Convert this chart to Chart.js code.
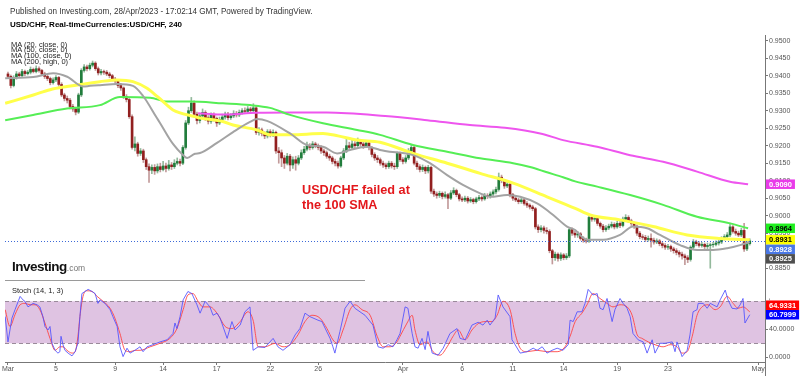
<!DOCTYPE html>
<html><head><meta charset="utf-8">
<script src="https://cdn.jsdelivr.net/npm/chart.js@4.4.0/dist/chart.umd.min.js"></script>
<style>
html,body{margin:0;padding:0;background:#fff;width:800px;height:376px;overflow:hidden;font-family:"Liberation Sans",Arial,sans-serif}
#wrap{position:relative;width:800px;height:376px}
canvas{position:absolute;left:0}
#cB{top:276px}
#cA{top:0}
.t{position:absolute;white-space:nowrap;line-height:10px;color:#222}
</style></head><body>
<div id="wrap">
<canvas id="cB" width="800" height="100"></canvas>
<canvas id="cA" width="800" height="290"></canvas>
<div class="t" style="left:10px;top:6.5px;font-size:8.15px;color:#333">Published on Investing.com, 28/Apr/2023 - 17:02:14 GMT, Powered by TradingView.</div>
<div class="t" style="left:10px;top:20px;font-size:8px;font-weight:bold;color:#000">USD/CHF, Real-timeCurrencies:USD/CHF, 240</div>
<div class="t" style="left:11px;top:39.5px;font-size:7.5px">MA (20, close, 0)</div>
<div class="t" style="left:11px;top:45.2px;font-size:7.5px">MA (50, close, 0)</div>
<div class="t" style="left:11px;top:50.9px;font-size:7.5px">MA (100, close, 0)</div>
<div class="t" style="left:11px;top:56.6px;font-size:7.5px">MA (200, high, 0)</div>
<div class="t" style="left:302px;top:182.5px;font-size:12.7px;line-height:15px;font-weight:bold;color:#e3171b">USD/CHF failed at</div>
<div class="t" style="left:302px;top:198px;font-size:12.7px;line-height:15px;font-weight:bold;color:#e3171b">the 100 SMA</div>
<div class="t" style="left:12px;top:259px;line-height:14px;color:#111"><span style="font-size:13.5px;font-weight:bold;letter-spacing:-0.5px">Investing</span><span style="font-size:8.5px;color:#777">.com</span></div>
<div class="t" style="left:12px;top:286px;font-size:7.5px">Stoch (14, 1, 3)</div>
</div>
<script>
// ---- price data (pips: 9400 = 0.9400), 4H candles, open = previous close ----
const firstOpen = 9405;
const closes = [9398,9372,9395,9405,9400,9412,9406,9410,9418,9412,9420,9415,9405,9398,9392,9380,9388,9395,9375,9345,
9335,9330,9312,9305,9296,9345,9415,9425,9420,9430,9436,9420,9408,9412,9410,9405,9400,9390,9385,9372,
9365,9340,9332,9283,9195,9205,9178,9185,9160,9140,9130,9138,9128,9140,9132,9142,9135,9145,9140,9150,
9155,9150,9195,9265,9300,9322,9290,9272,9285,9295,9280,9270,9288,9278,9265,9275,9282,9290,9280,9285,
9292,9288,9295,9300,9298,9305,9300,9308,9238,9245,9235,9228,9240,9232,9238,9185,9180,9165,9150,9170,
9145,9160,9150,9165,9180,9190,9200,9195,9205,9200,9195,9185,9180,9170,9165,9155,9150,9142,9165,9185,
9200,9195,9205,9200,9210,9205,9200,9208,9195,9175,9165,9160,9150,9145,9140,9150,9142,9140,9178,9160,
9155,9165,9185,9195,9150,9140,9132,9138,9128,9138,9070,9062,9058,9064,9055,9060,9050,9065,9072,9060,
9048,9045,9050,9042,9046,9040,9048,9052,9048,9058,9055,9062,9068,9075,9110,9100,9085,9090,9060,9050,
9045,9040,9045,9035,9030,9025,9020,8968,8960,8965,8958,8955,8900,8880,8890,8878,8888,8880,8885,8960,
8950,8945,8948,8935,8930,8928,8995,8990,8992,8978,8970,8960,8965,8970,8975,8968,8978,8972,8990,8995,
8985,8978,8970,8950,8940,8938,8932,8935,8930,8925,8928,8920,8915,8910,8912,8905,8900,8895,8890,8885,
8880,8875,8910,8925,8920,8915,8918,8912,8915,8917,8918,8922,8925,8935,8940,8945,8968,8955,8950,8945,
8958,8905,8920,8928];
const highs = [9410,9402,9400,9412,9410,9418,9416,9415,9425,9422,9428,9425,9418,9410,9403,9396,9394,9400,9398,9380,
9350,9342,9335,9318,9310,9350,9420,9432,9430,9436,9442,9440,9425,9418,9416,9415,9410,9404,9395,9388,
9378,9368,9346,9335,9288,9225,9210,9192,9190,9165,9148,9145,9146,9148,9150,9155,9150,9158,9152,9160,
9165,9162,9200,9272,9310,9338,9328,9296,9292,9305,9300,9286,9294,9294,9282,9282,9290,9296,9295,9292,
9300,9298,9302,9306,9308,9312,9310,9320,9312,9252,9250,9240,9246,9246,9245,9242,9195,9188,9172,9178,
9175,9168,9170,9172,9188,9198,9210,9206,9212,9210,9205,9200,9190,9185,9176,9170,9162,9156,9170,9192,
9218,9210,9215,9212,9222,9216,9212,9215,9212,9198,9180,9172,9165,9156,9150,9156,9155,9150,9182,9182,
9166,9172,9192,9204,9200,9156,9146,9145,9142,9144,9142,9076,9068,9070,9068,9068,9064,9072,9080,9076,
9064,9054,9056,9055,9052,9050,9053,9058,9057,9064,9063,9068,9074,9082,9122,9116,9104,9097,9094,9064,
9056,9050,9050,9049,9040,9034,9030,9024,8974,8972,8970,8966,8960,8904,8896,8894,8894,8892,8892,8966,
8965,8956,8955,8952,8940,8936,8998,9002,8998,8996,8982,8975,8972,8976,8982,8980,8984,8983,8996,9003,
9000,8990,8982,8974,8955,8946,8944,8942,8948,8936,8934,8932,8925,8920,8918,8916,8910,8906,8900,8896,
8890,8886,8914,8932,8930,8926,8924,8922,8922,8922,8924,8928,8930,8940,8946,8952,8979,8972,8962,8956,
8964,8978,8926,8934];
const lows = [9392,9365,9368,9390,9395,9396,9400,9402,9405,9408,9408,9410,9400,9392,9386,9374,9376,9383,9370,9340,
9328,9322,9305,9298,9288,9292,9340,9410,9414,9416,9425,9415,9402,9402,9404,9400,9394,9385,9378,9366,
9358,9335,9325,9278,9190,9185,9170,9172,9152,9132,9095,9120,9118,9122,9125,9128,9125,9130,9132,9135,
9145,9142,9146,9190,9260,9295,9282,9262,9265,9278,9272,9262,9264,9270,9255,9260,9270,9276,9274,9275,
9280,9282,9283,9290,9292,9292,9294,9296,9232,9230,9228,9220,9222,9225,9226,9178,9150,9140,9135,9145,
9128,9135,9130,9145,9160,9175,9185,9188,9190,9194,9188,9178,9172,9164,9158,9148,9142,9136,9138,9160,
9180,9188,9190,9192,9195,9198,9192,9195,9188,9168,9158,9152,9144,9138,9134,9135,9136,9132,9135,9155,
9148,9150,9160,9180,9145,9132,9125,9126,9120,9122,9064,9055,9050,9052,9048,9050,9020,9046,9060,9054,
9042,9040,9040,9036,9038,9034,9036,9043,9042,9044,9049,9050,9057,9062,9070,9094,9078,9080,9054,9044,
9040,9034,9035,9030,9024,9019,9014,8962,8952,8954,8950,8948,8894,8862,8872,8870,8872,8874,8875,8880,
8944,8938,8938,8930,8924,8922,8924,8984,8984,8972,8964,8954,8955,8960,8965,8962,8964,8966,8968,8985,
8980,8972,8964,8944,8934,8932,8926,8927,8910,8919,8920,8914,8908,8904,8904,8898,8893,8888,8882,8876,
8860,8866,8870,8905,8914,8910,8910,8906,8906,8850,8910,8914,8916,8920,8930,8935,8940,8950,8944,8940,
8940,8898,8900,8916];

// ---- moving averages: [candle index, value in pips] ----
const ma20 = [[-1,9393],[9,9396],[16,9407],[21,9397],[26.6,9369],[29.1,9371],[32.6,9373],[38.7,9376],[44.3,9371],[47.9,9342],
[52.8,9279],[53.9,9265],[58.5,9205],[62.1,9173],[63.5,9165],[66.3,9177],[68.1,9179],[74.1,9208],[79.8,9239],[85.8,9268],
[88.3,9276],[91.8,9271],[100,9235],[106,9202],[111.7,9197],[116.7,9178],[121.3,9188],[127.3,9197],[131.9,9188],[133.7,9185],
[143.6,9173],[149.6,9150],[155.7,9116],[161.3,9088],[167.4,9064],[170.9,9054],[177,9059],[181.6,9054],[187.6,9035],[193.3,9002],
[198.2,8969],[201.1,8959],[202.8,8945],[205.3,8931],[211,8931],[217,8945],[221.6,8969],[226.6,8964],[231.2,8945],[238.3,8916],
[244.3,8902],[250,8902],[255,8907],[259.6,8916],[263,8925]];
const ma50 = [[-1,9321],[9,9345],[14.9,9360],[20.9,9369],[32.6,9383],[38.7,9388],[44.3,9383],[49.3,9364],[53,9340],[56.4,9316],
[58.5,9302],[66.3,9283],[68.1,9279],[76.2,9269],[79.8,9259],[88.3,9245],[92.9,9231],[100,9231],[106,9233],[111.7,9235],
[117,9228],[123.8,9216],[131.9,9210],[143.6,9178],[155.7,9150],[167.4,9121],[179.1,9093],[191.1,9054],[201.1,9021],[206.4,9002],
[217,8988],[228.7,8969],[240.8,8945],[252.5,8935],[263,8931]];
const ma100 = [[-1,9273],[8.9,9288],[20.9,9306],[32.6,9316],[39.7,9339],[50.4,9337],[56.4,9326],[64.5,9326],[76.2,9321],[85.8,9316],
[92.9,9308],[100,9288],[111.7,9264],[123.8,9245],[131.9,9231],[143.6,9202],[155.7,9183],[167.4,9164],[179.1,9150],[185.1,9139],
[191.1,9124],[196.8,9110],[201.1,9098],[208.9,9083],[220.6,9059],[232.3,9031],[244.3,8997],[256,8978],[262.4,8964]];
const ma200 = [[67.4,9293],[75.2,9289],[88.3,9294],[100,9295],[113,9295],[133.7,9285],[148.6,9273],[163.8,9259],[176.2,9251],[188.7,9235],
[196.8,9216],[208.9,9197],[220.6,9173],[232.3,9154],[244.3,9126],[256,9097],[262.4,9090]];

// ---- stochastic (14,1,3): [candle index, value] ----
const stochK = [[-1,58],[0,22],[1.4,56],[2.5,68],[4.3,87],[5.3,82],[6,80],[7.1,72],[8.9,77],[10.3,75],[11.3,72],[12.4,58],[13.1,44],[14.2,39],[14.9,44],[15.6,20],[16.7,10],[17.7,6],[18.4,8],[18.8,30],[19.5,18],[20.2,10],[21.3,6],[22.7,2],[23.8,8],[24.8,20],[25.5,58],[26.2,91],[27.3,94],[28.4,97],[29.8,94],[30.9,91],[31.9,77],[32.6,82],[34.4,77],[36.2,68],[37.2,58],[38.7,44],[39.7,15],[40.8,1],[42.2,13],[43.3,6],[45,10],[46.8,15],[47.9,8],[49.3,15],[51.4,18],[53.9,22],[56.4,25],[58.5,34],[59.2,49],[59.9,41],[61,58],[62.1,82],[63.8,94],[65.2,91],[67,75],[68.1,63],[69.9,80],[71.6,72],[72.7,60],[74.1,63],[75.2,56],[77.7,27],[79.4,51],[80.5,39],[82.3,46],[84,65],[85.8,72],[86.9,10],[88.7,15],[91.1,14],[94,27],[95.7,15],[97.5,10],[100,18],[101.8,32],[103.5,41],[105.3,63],[107.1,58],[109.9,53],[111.3,51],[114.2,27],[115.2,15],[115.9,6],[117.7,37],[119.5,70],[121.3,80],[123,70],[125.5,63],[126.6,60],[129.4,46],[131.2,15],[133,13],[134.8,18],[136.5,15],[137.9,25],[139,34],[140.8,72],[141.8,70],[143.3,34],[144.3,15],[145.4,13],[146.8,27],[147.9,11],[148.9,37],[150.4,6],[152.5,3],[154.3,13],[156.7,34],[159.2,41],[160.3,27],[162.1,25],[164.5,46],[166.7,50],[168.4,46],[169.9,53],[170.9,46],[172.7,56],[173.8,89],[175.5,72],[178,58],[178.7,25],[179.8,18],[181.6,6],[184,8],[186.2,13],[187.6,10],[189.4,15],[191.1,6],[192.9,10],[194.7,13],[196.8,10],[198.6,18],[199.3,53],[200.4,51],[201.8,65],[203.5,65],[204.6,77],[205.7,97],[207.4,89],[208.9,91],[209.9,70],[211,68],[212.4,84],[214.2,51],[215.2,68],[217,84],[218.1,77],[219.5,70],[220.6,58],[221.6,34],[223.4,25],[225.2,22],[226.6,6],[228.4,25],[229.4,6],[231.2,20],[233,20],[235.5,22],[236.5,8],[237.2,22],[239,1],[240.8,10],[241.8,32],[242.9,65],[244.3,68],[244.7,77],[246.5,77],[247.9,70],[249,77],[251.4,72],[252.5,82],[254.3,96],[255.3,82],[256.7,70],[258.5,69],[259.6,75],[260.6,84],[261.3,49],[263,60.7999]];
const stochD = [[-1,68],[0.7,44],[2.5,61],[4.3,75],[6,77],[7.8,75],[9.6,75],[11.3,68],[13.1,49],[14.9,27],[16.7,10],[18.4,15],[19.5,15],[20.9,10],[22.7,6],[23.8,8],[24.8,30],[25.5,58],[26.6,87],[28,95],[29.8,94],[31.6,87],[33.7,80],[36.2,70],[37.9,56],[39.7,34],[41.5,10],[43.3,8],[45,10],[46.8,10],[50.4,15],[53.9,20],[57.4,27],[59.9,41],[62.1,68],[63.8,89],[65.6,91],[67.4,80],[69.1,72],[71.6,72],[74.1,63],[77,44],[79.4,41],[82.3,51],[85.1,65],[86.9,53],[88.7,15],[91.1,15],[94.7,20],[97.5,15],[100,18],[102.8,32],[105.3,51],[107.8,60],[110.6,56],[113.1,41],[115.2,25],[116.7,20],[118.8,39],[121.3,68],[123,75],[125.5,68],[128.4,60],[130.9,30],[133,15],[135.5,15],[137.9,22],[139,30],[141.5,49],[143.3,60],[144.3,39],[146.1,18],[148.6,22],[150.7,8],[153.2,3],[155.7,15],[157.8,30],[159.6,39],[162.1,25],[164.5,39],[166.7,48],[169.1,51],[171.6,51],[173.4,60],[175.5,80],[178,68],[179.8,34],[181.6,13],[184,8],[187.6,10],[191.1,8],[194.7,8],[197.5,15],[199.3,30],[201.1,51],[203.5,63],[205.3,75],[207.4,91],[209.9,84],[212.4,77],[214.5,72],[217,75],[219.5,72],[221.3,60],[223.1,32],[224.8,27],[227,22],[229.4,18],[232.3,15],[234.8,18],[237.2,15],[239,6],[240.8,8],[242.6,30],[244.3,60],[246.1,72],[248.2,75],[250.7,68],[252.5,72],[255,87],[257.1,77],[258.9,70],[260.6,72],[263,64.9331]];

// ---- axis ticks ----
const priceTicks = [8850,8900,8950,9000,9050,9100,9150,9200,9250,9300,9350,9400,9450,9500];
const stochTicks = [0,40,80];
const xTickIdx = [0,17,38,55,74,93,110,140,161,179,197,216,234,266];
const xTickLabels = ['Mar','5','9','14','17','22','26','Apr','6','11','14','19','23','May'];

Chart.defaults.font.family = '"Liberation Sans", Arial, sans-serif';
const X_MIN = -1.06, X_MAX = 268.4;
const last = a => a[a.length-1][1];

const opens = closes.map((c,i)=> i===0 ? firstOpen : closes[i-1]);
const up = i => closes[i] >= opens[i];
const wickData = closes.map((c,i)=>({x:i, y:[lows[i], highs[i]]}));
const bodyData = closes.map((c,i)=>({x:i, y:[opens[i], c]}));
const pts = a => a.map(([x,y])=>({x,y}));

function alignPx(p){ return Math.round(p - 0.5) + 0.5; }

const boxPlugin = {
  id:'boxes',
  afterDatasetsDraw(chart, args, o){
    if (o.priceLine == null) return;
    const {ctx, chartArea:a} = chart; const y = chart.scales.y;
    const py = Math.round(y.getPixelForValue(o.priceLine)) + 0.5;
    ctx.save(); ctx.strokeStyle = o.priceLineColor; ctx.lineWidth = 1; ctx.setLineDash([1,2]);
    ctx.beginPath(); ctx.moveTo(a.left, py); ctx.lineTo(a.right, py); ctx.stroke(); ctx.restore();
  },
  afterDraw(chart, args, o){
    const {ctx, chartArea:a} = chart; const y = chart.scales.y; const h = 9.5;
    const items = o.items.map(it=>Object.assign({}, it, {py: y.getPixelForValue(it.v)}));
    if (o.dir === 'down') {
      items.sort((p,q)=>p.py-q.py);
      for (let k=1;k<items.length;k++) if (items[k].py < items[k-1].py + h) items[k].py = items[k-1].py + h;
    } else {
      items.sort((p,q)=>q.py-p.py);
      for (let k=1;k<items.length;k++) if (items[k].py > items[k-1].py - h) items[k].py = items[k-1].py - h;
    }
    ctx.save();
    ctx.font = 'bold 7.5px "Liberation Sans", Arial, sans-serif';
    ctx.textBaseline = 'middle';
    if (o.mask) {
      const top = Math.min(...items.map(it=>it.py)) - h/2 - o.mask;
      const bot = Math.max(...items.map(it=>it.py)) + h/2 + o.mask;
      ctx.fillStyle = '#fff'; ctx.fillRect(a.right + 5, top, chart.width - a.right - 5, bot - top);
    }
    items.forEach(it=>{
      const txt = it.text;
      const w = ctx.measureText(txt).width + 6;
      ctx.fillStyle = it.bg; ctx.fillRect(a.right + 1, it.py - h/2, w, h);
      ctx.fillStyle = it.fg; ctx.fillText(txt, a.right + 4, it.py + 0.5);
    });
    if (o.extendAxis) {
      const x = alignPx(a.right);
      ctx.strokeStyle = '#777'; ctx.lineWidth = 1;
      ctx.beginPath(); ctx.moveTo(x, a.bottom); ctx.lineTo(x, chart.height); ctx.stroke();
    }
    if (o.separator) {
      ctx.strokeStyle = '#9a9a9a'; ctx.lineWidth = 1;
      ctx.beginPath(); ctx.moveTo(a.left, 280.5); ctx.lineTo(365, 280.5); ctx.stroke();
    }
    ctx.restore();
  }
};

const bandPlugin = {
  id:'band',
  beforeDatasetsDraw(chart, args, o){
    const {ctx, chartArea:a} = chart; const y = chart.scales.y;
    const y1 = y.getPixelForValue(o.hi), y2 = y.getPixelForValue(o.lo);
    ctx.save();
    ctx.fillStyle = o.fill; ctx.fillRect(a.left, y1, a.right - a.left, y2 - y1);
    ctx.strokeStyle = o.line; ctx.lineWidth = 1; ctx.setLineDash([4,3]);
    [y1,y2].forEach(v=>{ const yy = Math.round(v)+0.5; ctx.beginPath(); ctx.moveTo(a.left, yy); ctx.lineTo(a.right, yy); ctx.stroke(); });
    ctx.restore();
  }
};

const yAxisCommon = {
  position:'right',
  afterFit(s){ s.width = 35; },
  ticks:{ font:{size:7}, color:'#555', padding:1 },
  grid:{ drawOnChartArea:false, tickLength:3, color:'#777' },
  border:{ color:'#777' }
};

const lineDs = (label, data, color, width) => ({
  type:'line', label, data: pts(data), borderColor: color, borderWidth: width,
  pointRadius:0, fill:false, cubicInterpolationMode:'monotone', order:0
});

new Chart(document.getElementById('cA'), {
  type:'bar',
  data:{ datasets:[
    lineDs('MA (20, close, 0)', ma20, '#a3a3a3', 2),
    lineDs('MA (50, close, 0)', ma50, '#ffff4a', 3),
    lineDs('MA (100, close, 0)', ma100, '#55ee55', 2),
    lineDs('MA (200, high, 0)', ma200, '#ee55ee', 2),
    { type:'bar', label:'wick', data: wickData, grouped:false, barThickness:1, order:3,
      backgroundColor: c => up(c.dataIndex) ? '#93b99c' : '#c29a9a' },
    { type:'bar', label:'USD/CHF', data: bodyData, grouped:false, barThickness:2, order:2,
      backgroundColor: c => up(c.dataIndex) ? '#217d3c' : '#921f1f' }
  ]},
  options:{
    responsive:false, animation:false, events:[],
    layout:{ padding:{ top:35, left:5, right:0, bottom:7 } },
    plugins:{ legend:{display:false}, tooltip:{enabled:false},
      boxes:{ dir:'down', priceLine: closes[closes.length-1], priceLineColor:'#3d6ad8', separator:true,
        items:[
          {v:last(ma200), text:(last(ma200)/10000).toFixed(4), bg:'#e93be9', fg:'#fff'},
          {v:last(ma100), text:(last(ma100)/10000).toFixed(4), bg:'#1ff01f', fg:'#000'},
          {v:last(ma50), text:(last(ma50)/10000).toFixed(4), bg:'#ffff00', fg:'#000'},
          {v:closes[closes.length-1], text:(closes[closes.length-1]/10000).toFixed(4), bg:'#4a78e6', fg:'#fff'},
          {v:last(ma20), text:(last(ma20)/10000).toFixed(4), bg:'#4f4f4f', fg:'#fff'}
        ] } },
    scales:{
      x:{ type:'linear', min:X_MIN, max:X_MAX, display:false, offset:false },
      y: Object.assign({}, yAxisCommon, {
        min:8807.7, max:9516.3,
        afterBuildTicks(s){ s.ticks = priceTicks.map(v=>({value:v})); },
        ticks:{ font:{size:7}, color:'#555', padding:1, callback:v=>(v/10000).toFixed(4) }
      })
    }
  },
  plugins:[boxPlugin]
});

new Chart(document.getElementById('cB'), {
  type:'line',
  data:{ datasets:[
    { label:'%K', data: pts(stochK), borderColor:'rgba(80,80,255,0.85)', borderWidth:1, pointRadius:0, tension:0 },
    { label:'%D', data: pts(stochD), borderColor:'rgba(255,70,70,0.9)', borderWidth:1, pointRadius:0, cubicInterpolationMode:'monotone' }
  ]},
  options:{
    responsive:false, animation:false, events:[],
    layout:{ padding:{ top:7, left:5, right:0, bottom:0 } },
    plugins:{ legend:{display:false}, tooltip:{enabled:false},
      band:{ lo:20, hi:80, fill:'#dfc3e2', line:'#9a8a9a' },
      boxes:{ dir:'up', extendAxis:true, mask:3, items:[
        {v:last(stochD), text:last(stochD).toFixed(4), bg:'#ff0000', fg:'#fff'},
        {v:last(stochK), text:last(stochK).toFixed(4), bg:'#0000ff', fg:'#fff'}
      ] } },
    scales:{
      x:{ type:'linear', min:X_MIN, max:X_MAX, offset:false,
        afterFit(s){ s.height = 14; },
        afterBuildTicks(s){ s.ticks = xTickIdx.map(v=>({value:v})); },
        ticks:{ font:{size:7}, color:'#555', padding:0, maxRotation:0, autoSkip:false,
          callback:(v,i)=>xTickLabels[i] },
        grid:{ drawOnChartArea:false, tickLength:3, color:'#777' },
        border:{ color:'#777' } },
      y: Object.assign({}, yAxisCommon, {
        min:-6.71, max:106.1,
        afterBuildTicks(s){ s.ticks = stochTicks.map(v=>({value:v})); },
        ticks:{ font:{size:7}, color:'#555', padding:1, callback:v=>v.toFixed(4) }
      })
    }
  },
  plugins:[bandPlugin, boxPlugin]
});
</script>
</body></html>
